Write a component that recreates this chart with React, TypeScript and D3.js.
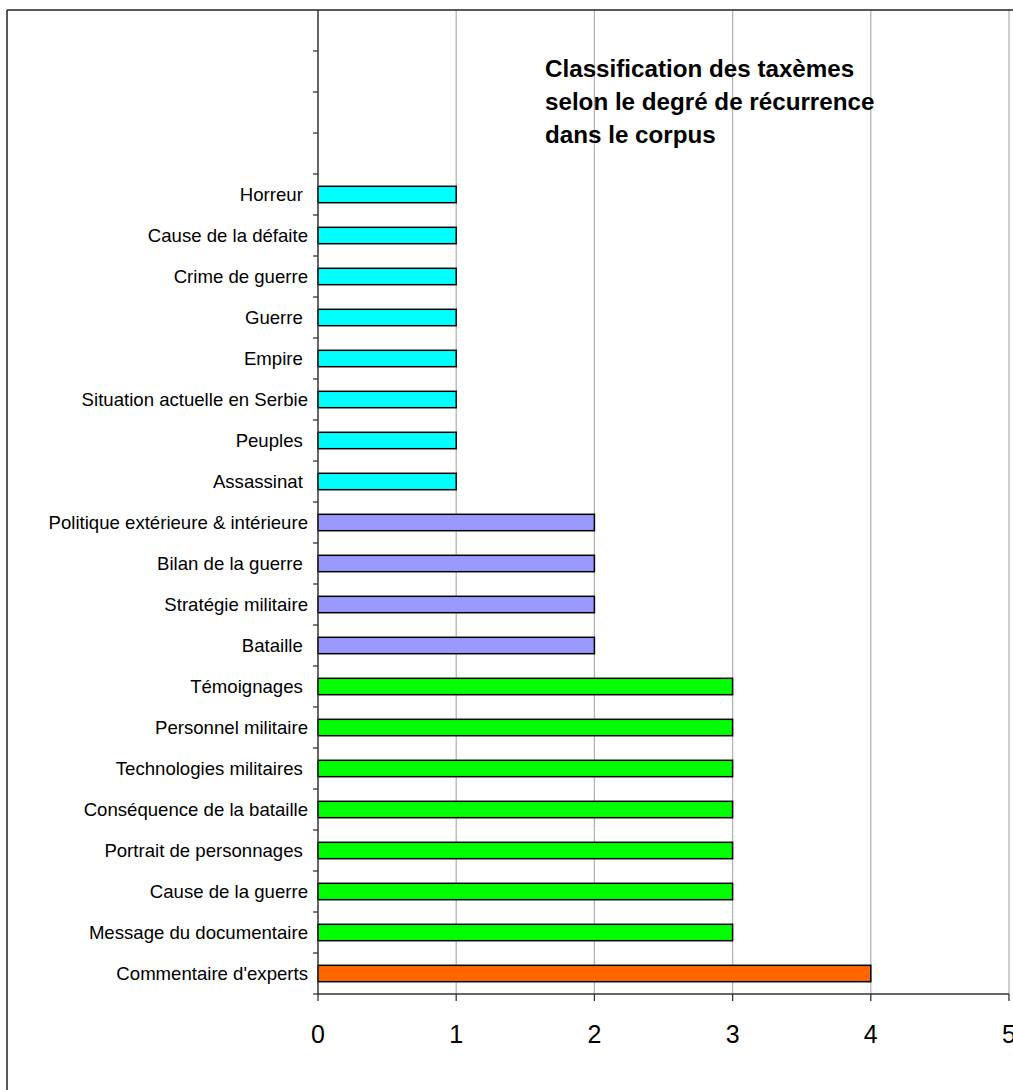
import React from "react";
import * as d3 from "d3";

const emptySlots = ["_e0", "_e1", "_e2", "_e3"];
const categories = [
  "Horreur ",
  "Cause de la défaite",
  "Crime de guerre",
  "Guerre ",
  "Empire ",
  "Situation actuelle en Serbie",
  "Peuples ",
  "Assassinat ",
  "Politique extérieure & intérieure",
  "Bilan de la guerre ",
  "Stratégie militaire",
  "Bataille ",
  "Témoignages ",
  "Personnel militaire",
  "Technologies militaires ",
  "Conséquence de la bataille",
  "Portrait de personnages ",
  "Cause de la guerre",
  "Message du documentaire",
  "Commentaire d'experts",
];
const values = [1, 1, 1, 1, 1, 1, 1, 1, 2, 2, 2, 2, 3, 3, 3, 3, 3, 3, 3, 4];
const groupColors = ["#00FFFF", "#9999FF", "#00FF00", "#FF6600"];
const xTicks = [0, 1, 2, 3, 4, 5];
const titleLines = [
  "Classification des taxèmes",
  "selon le degré de récurrence",
  "dans le corpus",
];

export default function App() {
  const W = 1013;
  const H = 1090;
  const left = 318;
  const right = 1009;
  const top = 10;
  const bottom = 994;

  const x = d3.scaleLinear().domain([0, 5]).range([left, right]);
  const y = d3
    .scaleBand<string>()
    .domain([...emptySlots, ...categories])
    .range([top, bottom])
    .paddingInner(0)
    .paddingOuter(0);
  const bw = y.bandwidth();
  const barH = bw * 0.4;
  const colorFor = (v: number) => groupColors[v - 1];

  const boundaries = d3.range(1, y.domain().length + 1).map((i) => top + i * bw);

  return (
    <svg
      width={W}
      height={H}
      style={{ position: "absolute", left: 0, top: 0, background: "#fff" }}
      fontFamily="Liberation Sans, Arial, sans-serif"
    >
      <rect x={0} y={0} width={W} height={H} fill="#fff" />
      {xTicks.slice(1).map((t) => (
        <line key={"g" + t} x1={x(t)} x2={x(t)} y1={top} y2={bottom} stroke="#b4b4b4" strokeWidth={1.3} />
      ))}
      {categories.map((c, i) => (
        <rect
          key={c}
          x={x(0)}
          y={(y(c) as number) + (bw - barH) / 2}
          width={x(values[i]) - x(0)}
          height={barH}
          fill={colorFor(values[i])}
          stroke="#000"
          strokeWidth={1.5}
        />
      ))}
      <line x1={left} x2={left} y1={top} y2={bottom} stroke="#333" strokeWidth={1.5} />
      {boundaries.map((b, i) => (
        <line key={"yt" + i} x1={left - 5} x2={left} y1={b} y2={b} stroke="#333" strokeWidth={1.3} />
      ))}
      <line x1={left} x2={right} y1={bottom} y2={bottom} stroke="#333" strokeWidth={1.5} />
      {xTicks.map((t) => (
        <line key={"xt" + t} x1={x(t)} x2={x(t)} y1={bottom} y2={bottom + 7} stroke="#333" strokeWidth={1.3} />
      ))}
      {xTicks.map((t) => (
        <text key={"xl" + t} x={x(t)} y={1043} textAnchor="middle" fontSize={25} fill="#000">
          {t}
        </text>
      ))}
      {categories.map((c) => (
        <text
          key={"l" + c}
          x={308}
          y={(y(c) as number) + bw / 2}
          dy="0.36em"
          textAnchor="end"
          fontSize={18.6}
          fill="#000"
          style={{ whiteSpace: "pre" }}
        >
          {c}
        </text>
      ))}
      {titleLines.map((l, i) => (
        <text
          key={"t" + i}
          x={545}
          y={77 + i * 33}
          fontSize={24.2}
          fontWeight="bold"
          fill="#000"
        >
          {l}
        </text>
      ))}
      <line x1={7} x2={W} y1={10} y2={10} stroke="#222" strokeWidth={1.5} />
      <line x1={7} x2={7} y1={10} y2={H} stroke="#222" strokeWidth={1.5} />
    </svg>
  );
}
